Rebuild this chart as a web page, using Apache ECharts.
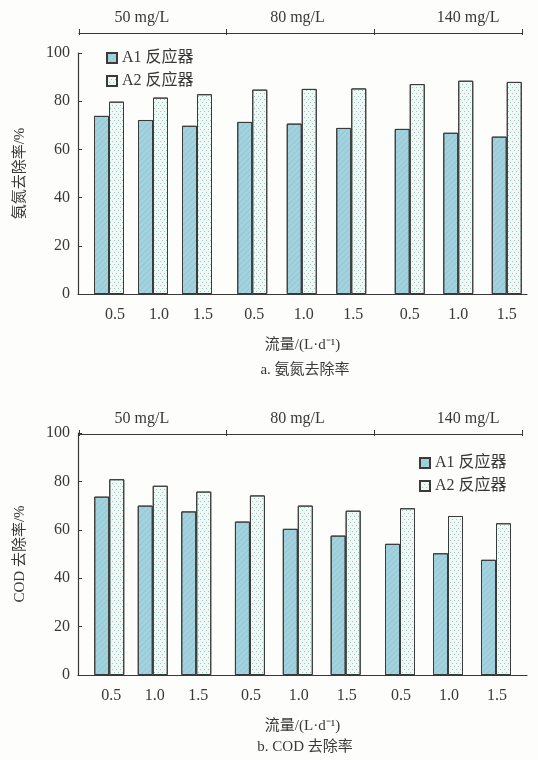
<!DOCTYPE html>
<html>
<head>
<meta charset="utf-8">
<script src="https://cdn.jsdelivr.net/npm/echarts@6/dist/echarts.min.js"></script>
<style>
  html, body { margin: 0; padding: 0; background: #fdfdfb; }
  #chart { width: 538px; height: 760px; }
</style>
</head>
<body>
<div id="chart"></div>
<script>
// Flow-rate categories within each influent concentration group
const flowLabels = ['0.5', '1.0', '1.5'];
// Influent concentration groups
const concLabels = ['50 mg/L', '80 mg/L', '140 mg/L'];
const seriesNames = ['A1 反应器', 'A2 反应器'];
const yTicks = [0, 20, 40, 60, 80, 100];

// Ammonia nitrogen removal (%), 9 values = 3 concentrations x 3 flow rates
const nh3A1 = [73.9, 72.2, 69.8, 71.4, 70.7, 68.9, 68.5, 66.9, 65.3];
const nh3A2 = [79.8, 81.5, 82.9, 84.8, 85.1, 85.3, 87.1, 88.5, 88.0];
// COD removal (%)
const codA1 = [73.7, 70.0, 67.6, 63.4, 60.4, 57.6, 54.2, 50.3, 47.6];
const codA2 = [80.9, 78.2, 75.8, 74.2, 70.0, 67.9, 68.9, 65.7, 62.7];

const SERIF = "'Liberation Serif', 'Times New Roman', 'Noto Sans CJK SC', serif";
const INK = '#383838';

const a1Style = {
  color: '#a3d3df',
  borderColor: '#3a3a3a',
  borderWidth: 1,
  decal: {
    symbol: 'rect', symbolSize: 1, color: 'rgba(50,100,115,0.12)',
    dashArrayX: [1, 0], dashArrayY: [1, 3], rotation: -Math.PI / 4
  }
};
const a2Style = {
  color: '#f0f8f5',
  borderColor: '#3a3a3a',
  borderWidth: 1,
  decal: {
    symbol: 'circle', symbolSize: 1, color: '#7fb5ad',
    dashArrayX: [[1, 3], [0, 2, 1, 1]], dashArrayY: [1, 2], rotation: 0
  }
};

// Layout of the two panels
const panels = [
  {
    a1: nh3A1, a2: nh3A2, yName: '氨氮去除率/%', caption: 'a. 氨氮去除率',
    top: 53, height: 241, bracketTop: 32,
    groups: [[87, 132], [227.5, 148.5], [385.5, 145.5]],
    labelShift: [12, 4, 0],
    legend: { left: 101, top: 45 }, captionTop: 358
  },
  {
    a1: codA1, a2: codA2, yName: 'COD 去除率/%', caption: 'b. COD 去除率',
    top: 433, height: 242, bracketTop: 433,
    groups: [[87.5, 130.5], [226, 143.6], [376, 144]],
    labelShift: [4, 2, 2],
    legend: { left: 414, top: 450 }, captionTop: 735
  }
];

const grid = [], xAxis = [], yAxis = [], series = [], legend = [], title = [];

panels.forEach((p) => {
  // main frame: y axis + baseline + x axis name
  const gMain = grid.length;
  grid.push({ left: 78, right: 11, top: p.top, height: p.height });
  xAxis.push({
    gridIndex: gMain, type: 'category', data: [''],
    axisLine: { lineStyle: { color: INK, width: 1.2 } },
    axisTick: { show: false }, axisLabel: { show: false },
    name: '流量/(L·d⁻¹)', nameLocation: 'middle', nameGap: 44,
    nameTextStyle: { fontFamily: SERIF, fontSize: 15, color: INK }
  });
  yAxis.push({
    gridIndex: gMain, type: 'value', min: 0, max: 100, interval: 20,
    axisLine: { show: true, lineStyle: { color: INK, width: 1.2 } },
    axisTick: { show: true, inside: true, length: 4, lineStyle: { color: INK } },
    splitLine: { show: false },
    axisLabel: { fontFamily: SERIF, fontSize: 16, color: INK, margin: 8,
      formatter: (v) => (yTicks.includes(v) ? String(v) : '') },
    name: p.yName, nameLocation: 'middle', nameGap: 50, nameRotate: 90,
    nameTextStyle: { fontFamily: SERIF, fontSize: 15, color: INK }
  });

  // concentration bracket along the top
  const gB = grid.length;
  grid.push({ left: 79, right: 16, top: p.bracketTop, height: 1 });
  const bracketLabel = {
    fontFamily: SERIF, fontSize: 16, color: INK, margin: 6,
    formatter: (v, i) => '{s' + i + '|' + v + '}',
    rich: {
      s0: { fontFamily: SERIF, fontSize: 16, color: INK, padding: [0, 22, 0, 0] },
      s1: { fontFamily: SERIF, fontSize: 16, color: INK, padding: [0, 6, 0, 0] },
      s2: { fontFamily: SERIF, fontSize: 16, color: INK, padding: [0, 0, 0, 40] }
    }
  };
  xAxis.push({
    gridIndex: gB, type: 'category', position: 'top', data: concLabels, boundaryGap: true,
    axisLine: { lineStyle: { color: INK, width: 1.2 } },
    axisTick: { show: true, interval: 0, length: 4, lineStyle: { color: INK } },
    axisLabel: bracketLabel
  });
  xAxis.push({
    gridIndex: gB, type: 'category', position: 'top', data: concLabels, boundaryGap: true,
    axisLine: { show: false },
    axisTick: { show: true, inside: true, interval: 0, length: 3, lineStyle: { color: INK } },
    axisLabel: { show: false }
  });
  yAxis.push({ gridIndex: gB, type: 'value', show: false });

  // one sub-grid per concentration group, holding three flow-rate pairs
  p.groups.forEach(([left, width], gi) => {
    const g = grid.length;
    grid.push({ left: left, width: width, top: p.top, height: p.height });
    const xi = xAxis.length;
    xAxis.push({
      gridIndex: g, type: 'category', data: flowLabels,
      axisLine: { show: false }, axisTick: { show: false },
      axisLabel: { fontFamily: SERIF, fontSize: 16, color: INK, margin: 13,
        padding: [0, 0, 0, p.labelShift[gi]] }
    });
    const yi = yAxis.length;
    yAxis.push({ gridIndex: g, type: 'value', min: 0, max: 100, show: false });
    const slice = (arr) => arr.slice(gi * 3, gi * 3 + 3);
    series.push({
      type: 'bar', name: seriesNames[0], xAxisIndex: xi, yAxisIndex: yi,
      data: slice(p.a1), barWidth: 15, barGap: '0%', itemStyle: a1Style, silent: true
    });
    series.push({
      type: 'bar', name: seriesNames[1], xAxisIndex: xi, yAxisIndex: yi,
      data: slice(p.a2), barWidth: 15, barGap: '0%', itemStyle: a2Style, silent: true
    });
  });

  legend.push({
    data: seriesNames, orient: 'vertical', left: p.legend.left, top: p.legend.top,
    icon: 'rect', itemWidth: 10, itemHeight: 10, itemGap: 7,
    textStyle: { fontFamily: SERIF, fontSize: 16, color: INK },
    selectedMode: false
  });
  title.push({
    text: p.caption, left: 300, textAlign: 'center', top: p.captionTop,
    textStyle: { fontFamily: SERIF, fontSize: 15, fontWeight: 'normal', color: INK }
  });
});

const chart = echarts.init(document.getElementById('chart'), null, { renderer: 'canvas' });
chart.setOption({
  backgroundColor: '#fdfdfb',
  animation: false,
  aria: { enabled: false, decal: { show: false } },
  title, legend, grid, xAxis, yAxis, series
});
</script>
</body>
</html>
